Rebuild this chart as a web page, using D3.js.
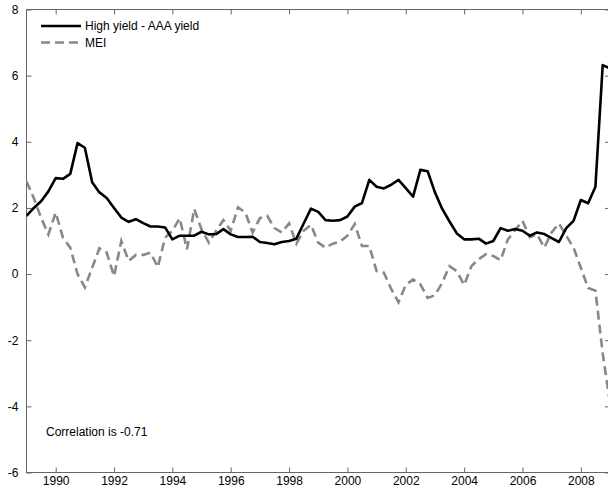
<!DOCTYPE html>
<html>
<head>
<meta charset="utf-8">
<script src="https://cdn.jsdelivr.net/npm/d3@7"></script>
<style>
  body { margin: 0; background: #fff; overflow: hidden; }
  svg { display: block; font-family: "Liberation Sans", Arial, sans-serif; }
</style>
</head>
<body>
<div id="chart"></div>
<script>
// quarterly observations, first one at 1989.0
var startYear = 1989;
var spread = [1.76, 2.0, 2.2, 2.5, 2.9, 2.88, 3.03, 3.96, 3.82, 2.78,
  2.47, 2.3, 2.0, 1.71, 1.58, 1.66, 1.54, 1.44, 1.44, 1.41,
  1.05, 1.16, 1.16, 1.16, 1.28, 1.2, 1.21, 1.36, 1.2, 1.12,
  1.12, 1.13, 0.97, 0.94, 0.9, 0.97, 1.0, 1.07, 1.53, 1.98,
  1.88, 1.63, 1.61, 1.63, 1.74, 2.04, 2.15, 2.85, 2.64, 2.59,
  2.7, 2.85, 2.6, 2.34, 3.15, 3.11, 2.47, 1.97, 1.59, 1.23,
  1.05, 1.05, 1.07, 0.92, 1.0, 1.39, 1.31, 1.36, 1.31, 1.16,
  1.26, 1.21, 1.09, 0.97, 1.39, 1.61, 2.24, 2.14, 2.64, 6.32, 6.22];
var mei = [2.8, 2.3, 1.7, 1.2, 1.86, 1.1, 0.8, 0.0, -0.4, 0.19,
  0.78, 0.65, -0.06, 1.0, 0.4, 0.58, 0.58, 0.65, 0.21, 1.1,
  1.31, 1.69, 0.75, 1.97, 1.35, 0.95, 1.31, 1.63, 1.31, 2.02,
  1.86, 1.26, 1.69, 1.76, 1.39, 1.26, 1.53, 0.92, 1.31, 1.49,
  0.95, 0.8, 0.92, 0.98, 1.16, 1.51, 0.85, 0.85, 0.09, 0.04,
  -0.45, -0.85, -0.33, -0.16, -0.31, -0.72, -0.64, -0.26, 0.24, 0.09,
  -0.33, 0.24, 0.45, 0.6, 0.55, 0.42, 1.05, 1.33, 1.61, 1.12,
  1.2, 0.8, 1.26, 1.53, 1.16, 0.8, 0.19, -0.42, -0.5, -2.4, -3.9];
var xTicks = [1990, 1992, 1994, 1996, 1998, 2000, 2002, 2004, 2006, 2008];
var yTicks = [-6, -4, -2, 0, 2, 4, 6, 8];
var legendLabels = ["High yield - AAA yield", "MEI"];
var note = "Correlation is -0.71";

var W = 608, H = 491;
var plotL = 26.5, plotR = 610, plotT = 9.5, plotB = 472.5;

var svg = d3.select("#chart").append("svg")
    .attr("width", W).attr("height", H);

var x = d3.scaleLinear().domain([1989, 2009]).range([plotL, plotR]);
var y = d3.scaleLinear().domain([-6, 8]).range([plotB, plotT]);

var axisColor = "#666";
var plain = function(d) { return String(d); }; // keep ascii hyphen for negatives

// frame
svg.append("rect")
    .attr("x", plotL).attr("y", plotT)
    .attr("width", plotR - plotL).attr("height", plotB - plotT)
    .attr("fill", "none").attr("stroke", axisColor).attr("stroke-width", 1);

// ticks, all pointing inward
function styleAxis(g) {
  g.select(".domain").remove();
  g.selectAll(".tick line").attr("stroke", axisColor);
  g.selectAll(".tick text").attr("fill", "#000").attr("font-size", 12)
      .attr("font-family", "Liberation Sans, Arial, sans-serif");
}

svg.append("g").attr("transform", "translate(0," + plotB + ")")
    .call(d3.axisBottom(x).tickValues(xTicks).tickFormat(plain)
      .tickSizeInner(-5).tickSizeOuter(0).tickPadding(4))
    .call(styleAxis);
svg.append("g").attr("transform", "translate(0," + plotT + ")")
    .call(d3.axisTop(x).tickValues(xTicks).tickFormat("").tickSizeInner(-5).tickSizeOuter(0))
    .call(styleAxis);
svg.append("g").attr("transform", "translate(" + plotL + ",0)")
    .call(d3.axisLeft(y).tickValues(yTicks).tickFormat(plain)
      .tickSizeInner(-5).tickSizeOuter(0).tickPadding(8))
    .call(styleAxis);
svg.append("g").attr("transform", "translate(" + plotR + ",0)")
    .call(d3.axisRight(y).tickValues(yTicks).tickFormat("").tickSizeInner(-5).tickSizeOuter(0))
    .call(styleAxis);

// series
var line = d3.line()
    .x(function(d, i) { return x(startYear + i / 4); })
    .y(function(d) { return y(d); });

svg.append("clipPath").attr("id", "clip")
  .append("rect").attr("x", plotL).attr("y", plotT)
    .attr("width", plotR - plotL).attr("height", plotB - plotT);

svg.append("path").datum(mei)
    .attr("clip-path", "url(#clip)")
    .attr("d", line)
    .attr("fill", "none")
    .attr("stroke", "#888")
    .attr("stroke-width", 2.6)
    .attr("stroke-dasharray", "9,5");

svg.append("path").datum(spread)
    .attr("clip-path", "url(#clip)")
    .attr("d", line)
    .attr("fill", "none")
    .attr("stroke", "#000")
    .attr("stroke-width", 2.6)
    .attr("stroke-linejoin", "round");

// legend
var legend = svg.append("g");
legendLabels.forEach(function(lbl, i) {
  var ly = 26 + i * 16.5;
  legend.append("line")
      .attr("x1", 41).attr("x2", 81).attr("y1", ly).attr("y2", ly)
      .attr("stroke", i === 0 ? "#000" : "#888")
      .attr("stroke-width", 2.6)
      .attr("stroke-dasharray", i === 0 ? null : "9,5");
  legend.append("text")
      .attr("x", 85).attr("y", ly).attr("dy", "0.35em")
      .attr("font-size", 12).text(lbl);
});

svg.append("text")
    .attr("x", 46).attr("y", 432).attr("dy", "0.35em")
    .attr("font-size", 12).text(note);
</script>
</body>
</html>
